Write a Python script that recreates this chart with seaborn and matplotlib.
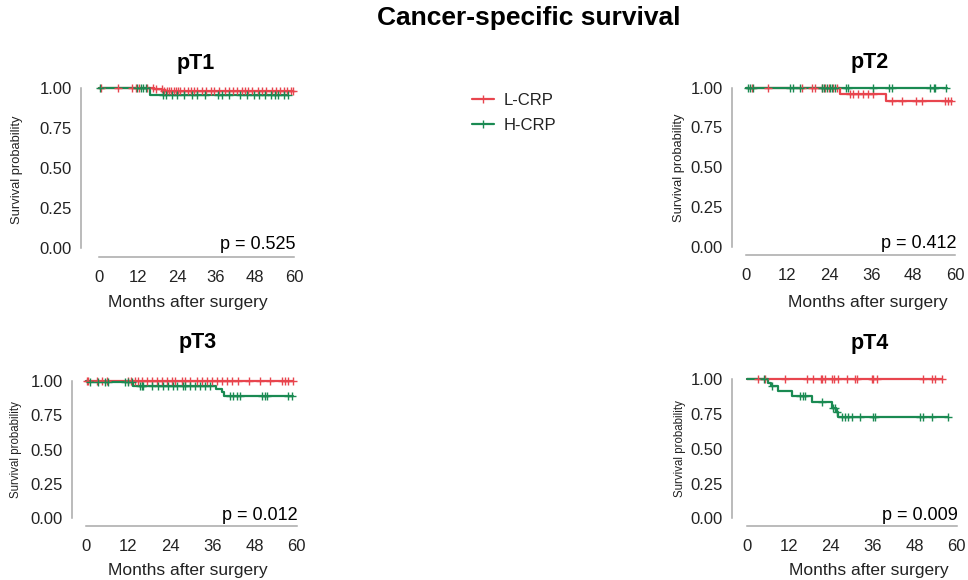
import numpy as np
import matplotlib
matplotlib.use("Agg")
import matplotlib.pyplot as plt
import seaborn as sns
from matplotlib.lines import Line2D

sns.set_theme(style="white")
plt.rcParams["font.family"] = ["Liberation Sans", "DejaVu Sans"]

W, H = 968, 580

groups = ["L-CRP", "H-CRP"]
palette = {"L-CRP": "#E8454E", "H-CRP": "#1A8A52"}

panels = ["pT1", "pT2", "pT3", "pT4"]
p_values = ["0.525", "0.412", "0.012", "0.009"]
x_ticks = [0, 12, 24, 36, 48, 60]
y_ticks = [0.00, 0.25, 0.50, 0.75, 1.00]
y_tick_labels = ["0.00", "0.25", "0.50", "0.75", "1.00"]

# ---- pT1 ----
pT1_L_times = [0.0, 17.0, 19.5]
pT1_L_surv = [1.0, 0.992, 0.984]
pT1_L_end = 59.8
pT1_L_cens = [0.5, 5.8, 10.2, 11.4, 12.3, 14.8, 16.5, 17.6, 19.3, 20.0, 20.8,
              21.5, 22.2, 23.0, 23.6, 24.3, 25.0, 26.2, 27.4, 28.3, 29.1, 30.2,
              31.8, 33.0, 34.6, 35.5, 36.8, 38.9, 40.1, 41.2, 42.5, 44.0, 45.0,
              45.9, 47.2, 49.0, 50.1, 51.3, 53.2, 54.6, 55.8, 57.0, 57.9, 59.0, 59.8]
pT1_H_times = [0.0, 15.7]
pT1_H_surv = [1.0, 0.958]
pT1_H_end = 58.2
pT1_H_cens = [0.4, 11.6, 12.8, 13.6, 14.4, 19.8, 20.7, 22.4, 24.0, 26.0, 28.5,
              30.2, 32.5, 36.5, 37.8, 40.0, 43.5, 45.5, 47.6, 49.3, 51.2, 52.8,
              54.0, 55.0, 57.0, 58.0]

# ---- pT2 ----
pT2_L_times = [0.0, 27.0, 40.1]
pT2_L_surv = [1.0, 0.962, 0.918]
pT2_L_end = 59.0
pT2_L_cens = [1.7, 6.3, 16.0, 19.1, 19.9, 22.0, 22.7, 23.9, 25.1, 26.1, 29.9,
              30.8, 32.3, 33.7, 35.1, 36.6, 41.8, 44.7, 48.9, 50.4, 57.1, 58.0, 58.8]
pT2_H_times = [0.0]
pT2_H_surv = [1.0]
pT2_H_end = 57.6
pT2_H_cens = [0.8, 1.2, 2.2, 12.7, 13.6, 15.6, 21.8, 22.5, 23.2, 24.2, 24.6,
              25.6, 28.8, 29.4, 36.6, 41.0, 41.8, 52.8, 54.0, 54.4, 57.3]

# ---- pT3 ----
pT3_L_times = [0.0]
pT3_L_surv = [1.0]
pT3_L_end = 59.0
pT3_L_cens = [0.2, 0.7, 3.0, 4.5, 5.9, 12.0, 12.9, 13.9, 14.9, 15.9, 17.3, 18.7,
              20.1, 21.6, 23.0, 24.4, 25.3, 27.3, 28.2, 29.6, 31.5, 32.9, 34.4,
              35.8, 37.2, 38.6, 40.1, 41.5, 43.4, 46.3, 49.6, 52.4, 55.7, 56.7,
              57.6, 59.0]
pT3_H_times = [0.0, 0.8, 13.5, 37.0, 38.6, 39.3]
pT3_H_surv = [1.0, 0.99, 0.965, 0.94, 0.915, 0.89]
pT3_H_end = 59.0
pT3_H_cens = [1.1, 3.5, 5.4, 6.4, 11.1, 12.1, 13.0, 15.4, 15.9, 16.3, 18.7,
              20.6, 22.0, 23.4, 24.9, 25.8, 27.7, 28.2, 29.6, 31.1, 32.5, 33.9,
              35.3, 41.0, 41.9, 42.9, 43.9, 50.0, 51.0, 51.5, 57.6, 58.6]

# ---- pT4 ----
pT4_L_times = [0.0]
pT4_L_surv = [1.0]
pT4_L_end = 55.7
pT4_L_cens = [3.3, 5.2, 10.9, 17.1, 19.0, 21.2, 21.6, 22.4, 24.5, 24.8, 26.2,
              28.6, 30.9, 31.4, 35.7, 36.0, 37.1, 50.5, 52.8, 53.8, 55.7]
pT4_H_times = [0.0, 6.2, 6.9, 9.0, 13.0, 18.6, 24.3, 25.5, 26.2]
pT4_H_surv = [1.0, 0.970, 0.954, 0.918, 0.882, 0.839, 0.791, 0.765, 0.727]
pT4_H_end = 57.6
pT4_H_cens = [5.0, 7.1, 15.2, 16.0, 16.7, 21.4, 24.7, 25.2, 25.9, 27.1, 28.1,
              29.0, 30.0, 32.4, 36.2, 36.7, 49.5, 50.5, 52.8, 57.6]

curves = {
    "pT1": {"L-CRP": (pT1_L_times, pT1_L_surv, pT1_L_end, pT1_L_cens),
            "H-CRP": (pT1_H_times, pT1_H_surv, pT1_H_end, pT1_H_cens)},
    "pT2": {"L-CRP": (pT2_L_times, pT2_L_surv, pT2_L_end, pT2_L_cens),
            "H-CRP": (pT2_H_times, pT2_H_surv, pT2_H_end, pT2_H_cens)},
    "pT3": {"L-CRP": (pT3_L_times, pT3_L_surv, pT3_L_end, pT3_L_cens),
            "H-CRP": (pT3_H_times, pT3_H_surv, pT3_H_end, pT3_H_cens)},
    "pT4": {"L-CRP": (pT4_L_times, pT4_L_surv, pT4_L_end, pT4_L_cens),
            "H-CRP": (pT4_H_times, pT4_H_surv, pT4_H_end, pT4_H_cens)},
}

# pixel geometry of each panel: y-spine x, x=0, x=60, y=1, y=0, x-spine y
layout = {
    "pT1": dict(sx=81, x0=99, x60=294, y1=88, y0=248, sy=257,
                title=(196, 63), xlab=(188, 303), ylab=(17.5, 170), ylab_fs=9.3),
    "pT2": dict(sx=732, x0=745.7, x60=955, y1=87.7, y0=246.7, sy=255,
                title=(870, 62), xlab=(868, 302), ylab=(679, 168), ylab_fs=9.3),
    "pT3": dict(sx=72, x0=86, x60=296.7, y1=380.7, y0=518.3, sy=526,
                title=(198, 342), xlab=(187.5, 570), ylab=(16.5, 450), ylab_fs=8.3),
    "pT4": dict(sx=732, x0=746.7, x60=956.7, y1=379.3, y0=518.3, sy=526,
                title=(870, 343), xlab=(869, 570), ylab=(680, 449), ylab_fs=8.3),
}

XMAX, YMAX = 62.5, 1.05
spine_col = "#A8A8A8"
text_col = "#222222"

fig = plt.figure(figsize=(W / 100, H / 100), dpi=100)
fig.patch.set_facecolor("white")


def step_at(times, surv, t):
    idx = np.searchsorted(times, t, side="right") - 1
    return np.asarray(surv)[idx]


for name, pval in zip(panels, p_values):
    g = layout[name]
    ppx = (g["x60"] - g["x0"]) / 60.0
    ppy = g["y0"] - g["y1"]
    xmin = (g["sx"] - g["x0"]) / ppx
    ymin = -(g["sy"] - g["y0"]) / ppy
    left, right = g["sx"], g["x0"] + XMAX * ppx
    top, bottom = g["y1"] - (YMAX - 1) * ppy, g["sy"]
    ax = fig.add_axes([left / W, 1 - bottom / H, (right - left) / W, (bottom - top) / H])
    ax.set_facecolor("none")

    def frac(px, py):
        return (px - left) / (right - left), (bottom - py) / (bottom - top)

    for grp in groups:
        times, surv, end, cens = curves[name][grp]
        xs = list(times) + [end]
        ys = list(surv) + [surv[-1]]
        sns.lineplot(x=xs, y=ys, ax=ax, color=palette[grp], linewidth=1.6,
                     drawstyle="steps-post", estimator=None, sort=False)
        cy = step_at(np.asarray(times), surv, np.asarray(cens))
        sns.scatterplot(x=cens, y=cy, ax=ax, color=palette[grp], marker="+",
                        s=30, linewidth=1.0, zorder=3)

    ax.set_xlim(xmin, XMAX)
    ax.set_ylim(ymin, YMAX)
    ax.set_xticks(x_ticks)
    ax.set_yticks(y_ticks)
    ax.set_yticklabels(y_tick_labels)
    for s in ["top", "right"]:
        ax.spines[s].set_visible(False)
    ax.spines["left"].set_bounds(0, 1)
    ax.spines["bottom"].set_bounds(0, 60)
    for s in ["left", "bottom"]:
        ax.spines[s].set_color(spine_col)
        ax.spines[s].set_linewidth(1.1)
    ax.tick_params(axis="both", which="both", direction="out", length=4.5, width=1.1,
                   color=spine_col, labelsize=12, labelcolor=text_col)
    ax.tick_params(axis="y", pad=2)
    ax.tick_params(axis="x", pad=5)
    ax.grid(False)

    tx, ty = frac(*g["title"])
    ax.text(tx, ty, name, transform=ax.transAxes, ha="center", va="center",
            fontsize=15.5, fontweight="bold", color="black")

    ax.set_xlabel("Months after surgery", fontsize=12.5, color=text_col)
    lx, ly = frac(*g["xlab"])
    ax.xaxis.set_label_coords(lx, ly)
    ax.xaxis.label.set_va("center")

    ax.set_ylabel("Survival probability", fontsize=g["ylab_fs"], color=text_col)
    yx, yy = frac(*g["ylab"])
    ax.yaxis.set_label_coords(yx, yy)
    ax.yaxis.label.set_va("center")
    ax.yaxis.label.set_ha("center")

    ax.text(60.4, 0.02, f"p = {pval}", ha="right", va="center", fontsize=13,
            color="black")

fig.text(529 / W, 1 - 18 / H, "Cancer-specific survival", ha="center", va="center",
         fontsize=19, fontweight="bold", color="black")

handles = [Line2D([], [], color=palette[g], lw=1.6, marker="|", markersize=6,
                  markeredgewidth=1.0) for g in groups]
fig.legend(handles, groups, loc="upper left", bbox_to_anchor=(472 / W, 1 - 93 / H),
           frameon=False, borderpad=0, borderaxespad=0, handlelength=1.3,
           handletextpad=0.6, labelspacing=0.6, fontsize=12, labelcolor=text_col)

fig.savefig("out.png", dpi=100, facecolor="white")
